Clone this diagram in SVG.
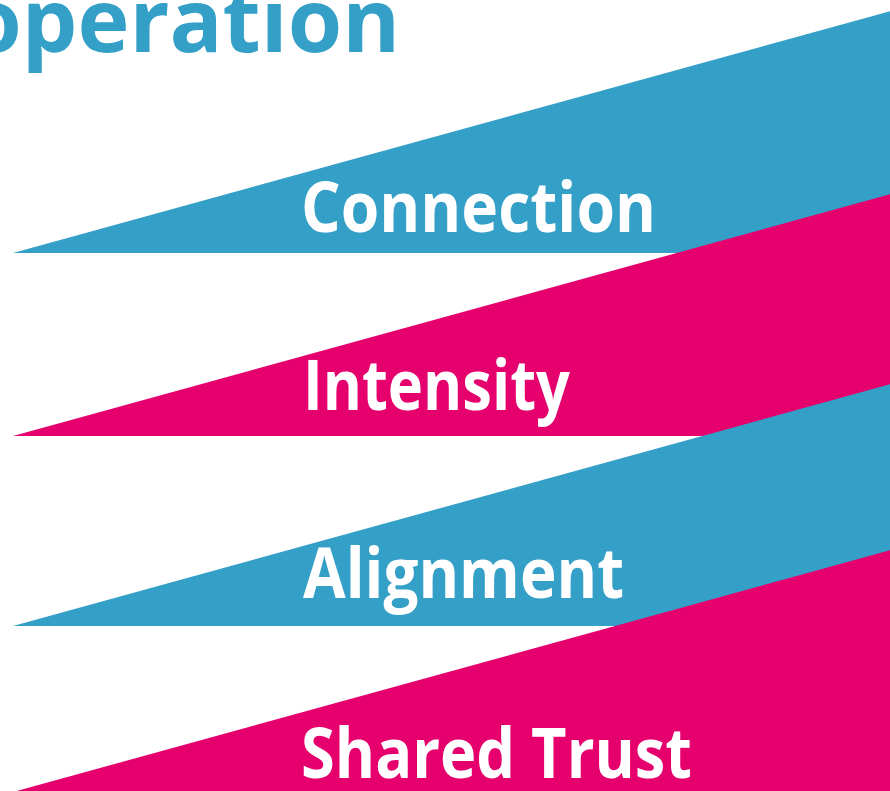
<svg xmlns="http://www.w3.org/2000/svg" width="890" height="791" viewBox="0 0 890 791">
<style>
.blue{fill:#349FC7}
.pink{fill:#E5006E}
.lbl{font-family:"Open Sans","Liberation Sans",sans-serif;font-weight:700;font-size:70px;fill:#FFFFFF}
.title{font-family:"Open Sans","Liberation Sans",sans-serif;font-weight:700;font-size:88px;fill:#349FC7}
</style>
<rect width="890" height="791" fill="#FFFFFF"/>
<g id="title">
<text class="title" x="400" y="52" text-anchor="end">Cooperation</text>
</g>
<g id="connection">
<polygon class="blue" points="13,253 900,8.4 900,253"/>
<text class="lbl" x="301" y="232" textLength="355" lengthAdjust="spacingAndGlyphs">Connection</text>
</g>
<g id="intensity">
<polygon class="pink" points="13,436 900,191.4 900,436"/>
<text class="lbl" x="303" y="410" textLength="267" lengthAdjust="spacingAndGlyphs">Intensity</text>
</g>
<g id="alignment">
<polygon class="blue" points="13,626 900,381.4 900,626"/>
<text class="lbl" x="303" y="598" textLength="321" lengthAdjust="spacingAndGlyphs">Alignment</text>
</g>
<g id="shared-trust">
<polygon class="pink" points="13,792 900,547.4 900,792"/>
<text class="lbl" x="301" y="778" textLength="391" lengthAdjust="spacingAndGlyphs">Shared Trust</text>
</g>
<g id="connectors"/>
</svg>
